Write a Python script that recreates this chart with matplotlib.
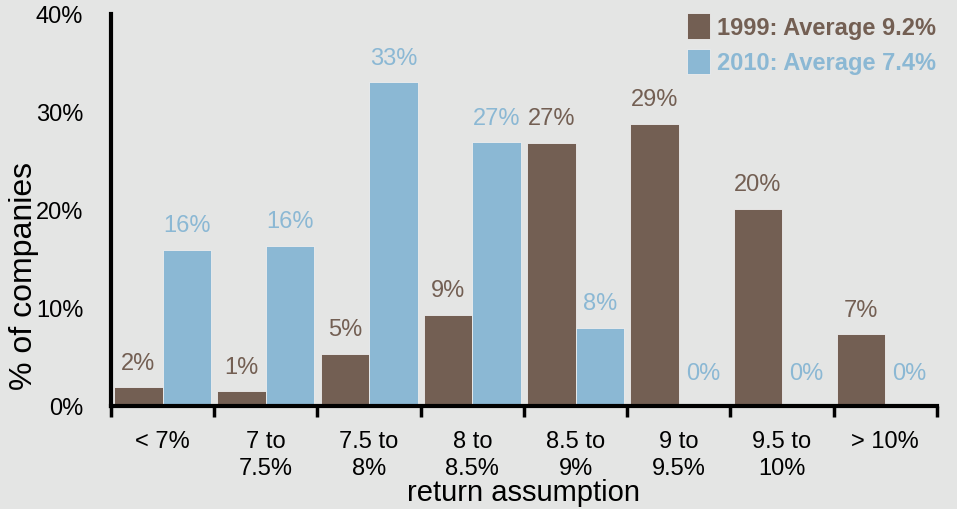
import numpy as np
import matplotlib
matplotlib.use('Agg')
from matplotlib import pyplot as plt

categories = ['< 7%', '7 to\n7.5%', '7.5 to\n8%', '8 to\n8.5%', '8.5 to\n9%',
              '9 to\n9.5%', '9.5 to\n10%', '> 10%']
vals_1999 = [1.9, 1.5, 5.3, 9.3, 26.8, 28.8, 20.1, 7.3]
vals_2010 = [15.9, 16.3, 33.0, 26.9, 8.0, 0.25, 0.25, 0.0]
labels_1999 = ['2%', '1%', '5%', '9%', '27%', '29%', '20%', '7%']
labels_2010 = ['16%', '16%', '33%', '27%', '8%', '0%', '0%', '0%']
legend_labels = ['1999: Average 9.2%', '2010: Average 7.4%']

brown = '#735f53'
blue = '#8bb8d4'
bg = '#e4e5e4'

plt.rcParams['font.family'] = ['Liberation Sans', 'DejaVu Sans']

fig = plt.figure(figsize=(9.57, 5.10), dpi=100, facecolor=bg)
ax = fig.add_axes([0.116, 0.202, 0.863, 0.769])
ax.set_facecolor(bg)

x = np.arange(len(categories))
w = 0.47
ax.bar(x - w / 2, vals_1999, w, color=brown, edgecolor='#eeeeee', linewidth=0.6,
       label=legend_labels[0])
ax.bar(x + w / 2, vals_2010, w, color=blue, edgecolor='#eeeeee', linewidth=0.6,
       label=legend_labels[1])

for xi, v, t in zip(x - w / 2, vals_1999, labels_1999):
    ax.text(xi, v + 1.4, t, ha='center', va='bottom', color=brown, fontsize=17)
for xi, v, t in zip(x + w / 2, vals_2010, labels_2010):
    ax.text(xi, max(v, 0.8) + 1.4, t, ha='center', va='bottom', color=blue, fontsize=17)

ax.set_xlim(-0.5, len(categories) - 0.5)
ax.set_ylim(0, 40)
ax.set_yticks([0, 10, 20, 30, 40])
ax.set_yticklabels(['0%', '10%', '20%', '30%', '40%'], fontsize=17)
ax.tick_params(axis='y', length=0, pad=20)

ax.set_xticks(np.arange(-0.5, len(categories)), minor=False)
ax.set_xticklabels([])
ax.tick_params(axis='x', which='major', length=8, width=2.5, direction='out')
ax.set_xticks(x, minor=True)
ax.set_xticklabels(categories, minor=True, fontsize=17, linespacing=1.3)
ax.tick_params(axis='x', which='minor', length=0, pad=17)

for s in ['top', 'right']:
    ax.spines[s].set_visible(False)
ax.spines['left'].set_linewidth(3)
ax.spines['bottom'].set_linewidth(3)

ax.set_ylabel('% of companies', fontsize=23, va='center')
ax.yaxis.set_label_coords(-0.105, 0.335)
ax.set_xlabel('return assumption', fontsize=21, va='center')
ax.xaxis.set_label_coords(0.5, -0.22)

ax.legend(loc='upper right', bbox_to_anchor=(1.025, 1.055), frameon=False,
          prop={'weight': 'bold', 'size': 17}, labelcolor=[brown, blue],
          handlelength=1.0, handleheight=1.3, handletextpad=0.3,
          labelspacing=0.4)

fig.savefig('out.png', dpi=100, facecolor=bg)
